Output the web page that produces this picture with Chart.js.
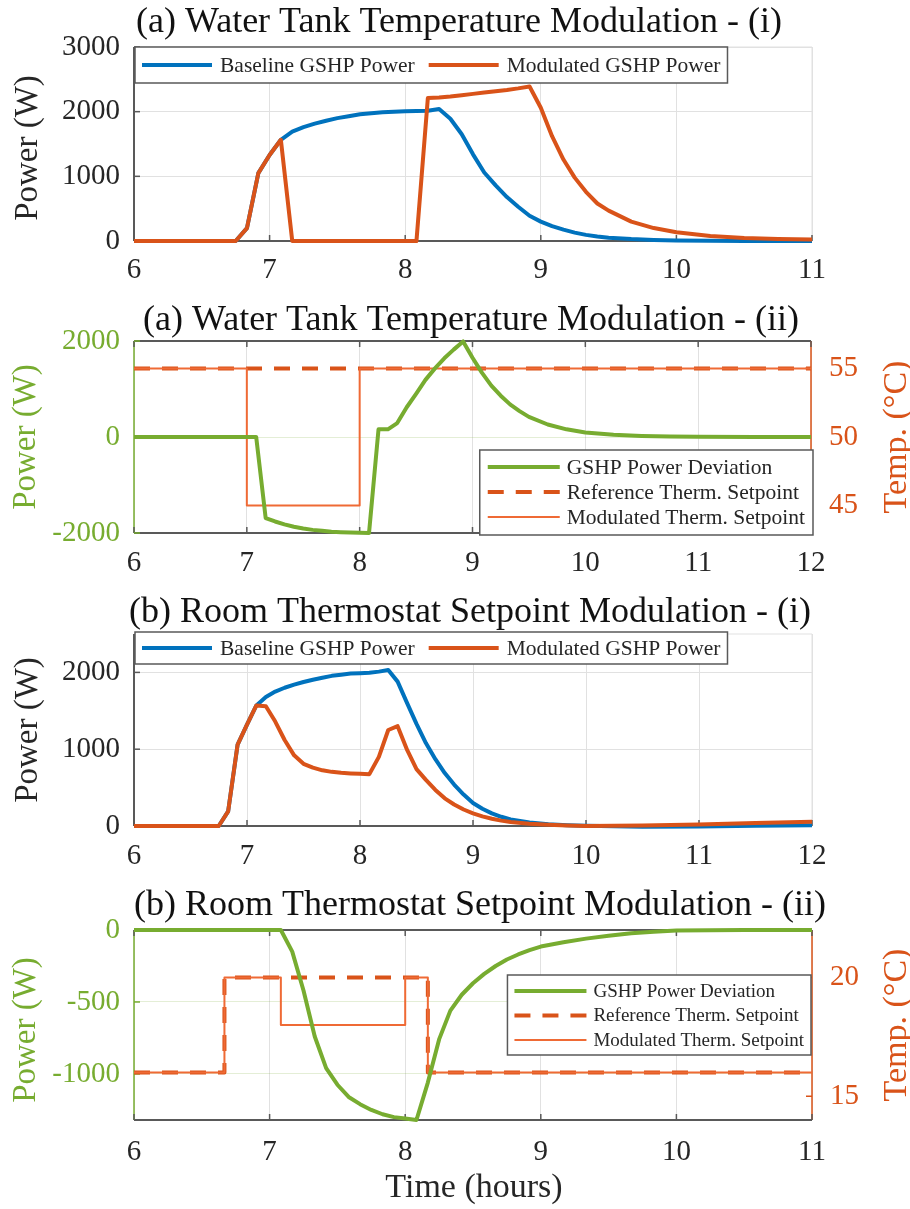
<!DOCTYPE html>
<html>
<head>
<meta charset="utf-8">
<script src="https://cdn.jsdelivr.net/npm/chart.js@4.4.1/dist/chart.umd.min.js"></script>
<style>
  body { margin: 0; background: #fff; }
  #wrap { position: relative; width: 910px; height: 1209px; overflow: hidden; }
  canvas { position: absolute; left: 0; }
</style>
</head>
<body>
<div id="wrap">
  <canvas id="p1" width="910" height="292" style="top:0px"></canvas>
  <canvas id="p2" width="910" height="293" style="top:292px"></canvas>
  <canvas id="p3" width="910" height="293" style="top:585px"></canvas>
  <canvas id="p4" width="910" height="331" style="top:878px"></canvas>
</div>
<script>
// ---- data (time in hours, power in W, temperature in degC) ----
const panelTitles = [
  '(a) Water Tank Temperature Modulation - (i)',
  '(a) Water Tank Temperature Modulation - (ii)',
  '(b) Room Thermostat Setpoint Modulation - (i)',
  '(b) Room Thermostat Setpoint Modulation - (ii)'
];

// panel (a)-(i)
const p1Time = [6, 6.75, 6.833, 6.917, 7.0, 7.083, 7.167, 7.25, 7.333, 7.417, 7.5, 7.583, 7.667, 7.75, 7.833, 7.917,
  8.0, 8.083, 8.167, 8.25, 8.333, 8.417, 8.5, 8.583, 8.667, 8.75, 8.833, 8.917, 9.0, 9.083, 9.167, 9.25, 9.333, 9.417,
  9.5, 9.667, 9.833, 10.0, 10.25, 10.5, 10.75, 11.0];
const p1Baseline = [0, 0, 200, 1050, 1330, 1565, 1690, 1760, 1815, 1860, 1900, 1930, 1960, 1975, 1990, 2000,
  2005, 2010, 2015, 2040, 1890, 1650, 1340, 1060, 860, 680, 530, 390, 300, 230, 175, 130, 95, 70,
  52, 30, 17, 9, 3, 1, 0, 0];
const p1Modulated = [0, 0, 200, 1050, 1330, 1565, 0, 0, 0, 0, 0, 0, 0, 0, 0, 0,
  0, 0, 2210, 2220, 2235, 2255, 2275, 2295, 2315, 2335, 2360, 2390, 2060, 1620, 1260, 980, 760, 580,
  470, 300, 200, 135, 78, 48, 32, 25];
const p1XTicks = [6, 7, 8, 9, 10, 11];
const p1YTicks = [0, 1000, 2000, 3000];

// panel (a)-(ii)
const p2Time = [6, 7.0, 7.083, 7.167, 7.25, 7.333, 7.417, 7.5, 7.583, 7.667, 7.75, 7.833, 7.917, 8.0, 8.083,
  8.167, 8.25, 8.333, 8.417, 8.5, 8.583, 8.667, 8.75, 8.833, 8.917, 9.0, 9.083, 9.167, 9.25, 9.333, 9.417,
  9.5, 9.667, 9.833, 10.0, 10.25, 10.5, 10.75, 11.0, 11.5, 12.0];
const p2Deviation = [0, 0, 0, -1690, -1760, -1820, -1870, -1905, -1935, -1955, -1972, -1982, -1990, -1995, -2000,
  160, 160, 290, 620, 900, 1190, 1430, 1640, 1820, 1990, 1650, 1340, 1070, 860, 680, 540,
  420, 260, 160, 95, 45, 22, 10, 4, 0, 0];
const p2RefTime = [6, 12];
const p2RefSetpoint = [55, 55];
const p2ModTime = [6, 7, 7, 8, 8, 12];
const p2ModSetpoint = [55, 55, 45, 45, 55, 55];
const p2XTicks = [6, 7, 8, 9, 10, 11, 12];
const p2YTicks = [-2000, 0, 2000];
const p2TTicks = [45, 50, 55];

// panel (b)-(i)
const p3Time = [6, 6.75, 6.833, 6.917, 7.0, 7.083, 7.167, 7.25, 7.333, 7.417, 7.5, 7.583, 7.667, 7.75, 7.833, 7.917,
  8.0, 8.083, 8.167, 8.25, 8.333, 8.417, 8.5, 8.583, 8.667, 8.75, 8.833, 8.917, 9.0, 9.083, 9.167, 9.25, 9.333,
  9.5, 9.667, 9.833, 10.0, 10.5, 11.0, 11.5, 12.0];
const p3Baseline = [0, 0, 190, 1060, 1320, 1570, 1680, 1750, 1800, 1840, 1875, 1905, 1930, 1955, 1970, 1985,
  1990, 1995, 2010, 2030, 1880, 1600, 1330, 1080, 870, 690, 540, 410, 300, 225, 165, 120, 85,
  45, 22, 10, 2, -10, -5, 3, 10];
const p3Modulated = [0, 0, 190, 1060, 1320, 1570, 1560, 1360, 1120, 920, 810, 760, 725, 705, 692, 685,
  680, 675, 900, 1250, 1300, 990, 740, 600, 470, 360, 280, 215, 165, 125, 95, 70, 52,
  30, 15, 5, 0, 5, 20, 38, 56];
const p3XTicks = [6, 7, 8, 9, 10, 11, 12];
const p3YTicks = [0, 1000, 2000];

// panel (b)-(ii)
const p4Time = [6, 7.0, 7.083, 7.167, 7.25, 7.333, 7.417, 7.5, 7.583, 7.667, 7.75, 7.833, 7.917, 8.0, 8.083,
  8.167, 8.25, 8.333, 8.417, 8.5, 8.583, 8.667, 8.75, 8.833, 8.917, 9.0, 9.167, 9.333, 9.5, 9.667, 9.833,
  10.0, 10.5, 11.0];
const p4Deviation = [0, 0, 0, -150, -420, -740, -960, -1075, -1160, -1210, -1250, -1280, -1300, -1310, -1320,
  -1060, -760, -560, -450, -370, -305, -250, -205, -170, -140, -115, -85, -60, -40, -23, -12,
  -4, 0, 0];
const p4RefTime = [6, 6.667, 6.667, 8.167, 8.167, 11];
const p4RefSetpoint = [16, 16, 20, 20, 16, 16];
const p4ModTime = [6, 6.667, 6.667, 7.083, 7.083, 8.0, 8.0, 8.167, 8.167, 11];
const p4ModSetpoint = [16, 16, 20, 20, 18, 18, 20, 20, 16, 16];
const p4XTicks = [6, 7, 8, 9, 10, 11];
const p4YTicks = [-1000, -500, 0];
const p4TTicks = [15, 20];

// ---- styling ----
const BLUE = '#0072BD', ORANGE = '#D95319', GREEN = '#77AC30', THIN = '#EF6A35';
const AXIS = '#595959', GRID = '#e1e1e1', GRID_G = 'rgba(119,172,48,0.2)';
const FONT = '"Liberation Serif", "Times New Roman", serif';

function pts(xs, ys) {
  return xs.map((x, i) => ({ x: x, y: ys[i] }));
}

function line(ctx, x1, y1, x2, y2, color, w) {
  ctx.beginPath();
  ctx.strokeStyle = color;
  ctx.lineWidth = w;
  ctx.setLineDash([]);
  ctx.moveTo(x1, y1);
  ctx.lineTo(x2, y2);
  ctx.stroke();
}

function drawLegend(chart, L) {
  const ctx = chart.ctx;
  const sets = chart.data.datasets;
  ctx.font = L.size + 'px ' + FONT;
  const widths = sets.map(d => ctx.measureText(d.label).width);
  let w;
  if (L.horizontal) {
    w = L.pad;
    widths.forEach((tw, i) => { w += L.sample + L.gap + tw + (i < sets.length - 1 ? L.itemGap : L.pad); });
  } else {
    w = L.pad + L.sample + L.gap + Math.max(...widths) + L.pad;
  }
  const x0 = L.right ? L.right - w : L.x;
  ctx.fillStyle = '#fff';
  ctx.fillRect(x0, L.y, w, L.h);
  ctx.strokeStyle = AXIS;
  ctx.lineWidth = 1.5;
  ctx.setLineDash([]);
  ctx.strokeRect(x0, L.y, w, L.h);
  ctx.textBaseline = 'middle';
  ctx.textAlign = 'left';
  let cx = x0 + L.pad;
  sets.forEach((d, i) => {
    const cy = L.horizontal ? L.y + L.first : L.y + L.first + i * L.rowH;
    const sx = L.horizontal ? cx : x0 + L.pad;
    ctx.beginPath();
    ctx.strokeStyle = d.borderColor;
    ctx.lineWidth = d.borderWidth;
    ctx.setLineDash(d.borderDash || []);
    ctx.moveTo(sx, cy);
    ctx.lineTo(sx + L.sample, cy);
    ctx.stroke();
    ctx.setLineDash([]);
    ctx.fillStyle = '#262626';
    ctx.fillText(d.label, sx + L.sample + L.gap, cy + 1);
    cx += L.sample + L.gap + widths[i] + L.itemGap;
  });
}

const matlabLook = {
  id: 'matlabLook',
  beforeDatasetsDraw(chart, args, o) {
    const ctx = chart.ctx, a = chart.chartArea;
    ctx.save();
    // axes box, under the curves
    line(ctx, a.left, a.top, a.right, a.top, o.frame.top, o.frame.topW);
    line(ctx, a.right, a.top, a.right, a.bottom, o.frame.right, o.frame.rightW);
    line(ctx, a.left, a.bottom, a.right, a.bottom, AXIS, 2);
    line(ctx, a.left, a.top, a.left, a.bottom, o.frame.left, o.frame.leftW);
    // inward tick marks
    const xs = chart.scales.x;
    xs.ticks.forEach(t => {
      const px = xs.getPixelForValue(t.value);
      line(ctx, px, a.bottom, px, a.bottom - 6, AXIS, 1.5);
      if (o.boxOn) line(ctx, px, a.top, px, a.top + 6, AXIS, 1.5);
    });
    o.yMarks.forEach(m => {
      const s = chart.scales[m.id];
      s.ticks.forEach(t => {
        const py = s.getPixelForValue(t.value);
        if (m.side === 'left') line(ctx, a.left, py, a.left + 6, py, m.color, 1.5);
        else line(ctx, a.right, py, a.right - 6, py, m.color, 1.5);
      });
    });
    ctx.restore();
  },
  afterDraw(chart, args, o) {
    const ctx = chart.ctx;
    ctx.save();
    drawLegend(chart, o.legend);
    // title
    ctx.fillStyle = '#111';
    ctx.font = o.title.size + 'px ' + FONT;
    ctx.textAlign = 'center';
    ctx.textBaseline = 'alphabetic';
    ctx.fillText(o.title.text, o.title.x, o.title.y);
    // axis titles
    o.yTitles.forEach(t => {
      ctx.save();
      ctx.translate(t.x, t.y);
      ctx.rotate(-Math.PI / 2);
      ctx.fillStyle = t.color;
      ctx.font = t.size + 'px ' + FONT;
      ctx.textAlign = 'center';
      ctx.textBaseline = 'middle';
      ctx.fillText(t.text, 0, 0);
      ctx.restore();
    });
    if (o.xTitle) {
      ctx.fillStyle = '#262626';
      ctx.font = o.xTitle.size + 'px ' + FONT;
      ctx.textAlign = 'center';
      ctx.textBaseline = 'middle';
      ctx.fillText(o.xTitle.text, o.xTitle.x, o.xTitle.y);
    }
    ctx.restore();
  }
};

function xAxis(max, ticks, height, pad) {
  return {
    type: 'linear', min: 6, max: max,
    afterBuildTicks: s => { s.ticks = ticks.map(v => ({ value: v })); },
    afterFit: s => { s.height = height; },
    grid: { color: GRID, drawTicks: false, lineWidth: 1 },
    border: { display: false },
    ticks: { color: '#262626', font: { family: FONT, size: 29 }, padding: pad, maxRotation: 0, autoSkip: false,
      callback: v => String(v) }
  };
}

function yAxis(pos, min, max, ticks, color, width, grid, pad) {
  return {
    type: 'linear', position: pos, min: min, max: max,
    afterBuildTicks: s => { s.ticks = ticks.map(v => ({ value: v })); },
    afterFit: s => { s.width = width; },
    grid: { display: !!grid, color: grid || GRID, drawTicks: false, lineWidth: 1 },
    border: { display: false },
    ticks: { color: color, font: { family: FONT, size: 29 }, padding: pad, autoSkip: false,
      callback: v => String(v) }
  };
}

function makeChart(id, datasets, scales, padding, look) {
  datasets.forEach(d => { d.clip = 6; });
  return new Chart(document.getElementById(id), {
    type: 'line',
    data: { datasets: datasets },
    options: {
      responsive: false,
      animation: false,
      devicePixelRatio: 1,
      events: [],
      layout: { padding: padding },
      elements: { point: { radius: 0 }, line: { tension: 0, borderJoinStyle: 'round' } },
      scales: scales,
      plugins: { legend: { display: false }, tooltip: { enabled: false }, matlabLook: look }
    },
    plugins: [matlabLook]
  });
}

const powerTitle = (x, y, color) => ({ text: 'Power (W)', x: x, y: y, color: color, size: 33 });
const tempTitle = (x, y) => ({ text: 'Temp. (\u00B0C)', x: x, y: y, color: ORANGE, size: 34 });
const plainFrame = { top: GRID, topW: 1, right: GRID, rightW: 1, left: AXIS, leftW: 2 };
const twinFrame = { top: AXIS, topW: 2, right: ORANGE, rightW: 1.5, left: GREEN, leftW: 1.5 };

// (a)-(i)
makeChart('p1', [
  { label: 'Baseline GSHP Power', data: pts(p1Time, p1Baseline), borderColor: BLUE, borderWidth: 4, order: 2 },
  { label: 'Modulated GSHP Power', data: pts(p1Time, p1Modulated), borderColor: ORANGE, borderWidth: 4, order: 1 }
], {
  x: xAxis(11, p1XTicks, 51, 12),
  y: yAxis('left', 0, 3000, p1YTicks, '#262626', 134, GRID, 14)
}, { left: 0, top: 47, right: 98, bottom: 0 }, {
  frame: plainFrame, boxOn: false,
  yMarks: [{ id: 'y', side: 'left', color: AXIS }],
  legend: { horizontal: true, x: 135, y: 47, h: 36, first: 18, pad: 7, sample: 70, gap: 8, itemGap: 14, size: 21.5 },
  title: { text: panelTitles[0], x: 459, y: 32, size: 36 },
  yTitles: [powerTitle(28, 148, '#262626')]
});

// (a)-(ii)
makeChart('p2', [
  { label: 'GSHP Power Deviation', data: pts(p2Time, p2Deviation), borderColor: GREEN, borderWidth: 4, yAxisID: 'y', order: 0 },
  { label: 'Reference Therm. Setpoint', data: pts(p2RefTime, p2RefSetpoint), borderColor: ORANGE, borderWidth: 4,
    borderDash: [16, 12], yAxisID: 'y1', order: 2 },
  { label: 'Modulated Therm. Setpoint', data: pts(p2ModTime, p2ModSetpoint), borderColor: THIN, borderWidth: 2, yAxisID: 'y1', order: 1 }
], {
  x: xAxis(12, p2XTicks, 52, 13),
  y: yAxis('left', -2000, 2000, p2YTicks, GREEN, 134, GRID_G, 14),
  y1: yAxis('right', 43, 57, p2TTicks, ORANGE, 99, null, 18)
}, { left: 0, top: 49, right: 0, bottom: 0 }, {
  frame: twinFrame, boxOn: true,
  yMarks: [{ id: 'y', side: 'left', color: GREEN }, { id: 'y1', side: 'right', color: ORANGE }],
  legend: { horizontal: false, right: 813, y: 158, h: 85, first: 17, rowH: 25, pad: 8, sample: 72, gap: 7, size: 21.5 },
  title: { text: panelTitles[1], x: 471, y: 38, size: 36 },
  yTitles: [powerTitle(26, 145, GREEN), tempTitle(897, 145)]
});

// (b)-(i)
makeChart('p3', [
  { label: 'Baseline GSHP Power', data: pts(p3Time, p3Baseline), borderColor: BLUE, borderWidth: 4, order: 2 },
  { label: 'Modulated GSHP Power', data: pts(p3Time, p3Modulated), borderColor: ORANGE, borderWidth: 4, order: 1 }
], {
  x: xAxis(12, p3XTicks, 52, 13),
  y: yAxis('left', 0, 2500, p3YTicks, '#262626', 134, GRID, 14)
}, { left: 0, top: 49, right: 98, bottom: 0 }, {
  frame: plainFrame, boxOn: false,
  yMarks: [{ id: 'y', side: 'left', color: AXIS }],
  legend: { horizontal: true, x: 135, y: 47, h: 32, first: 16, pad: 7, sample: 70, gap: 8, itemGap: 14, size: 21.5 },
  title: { text: panelTitles[2], x: 470, y: 37, size: 36 },
  yTitles: [powerTitle(28, 145, '#262626')]
});

// (b)-(ii)
makeChart('p4', [
  { label: 'GSHP Power Deviation', data: pts(p4Time, p4Deviation), borderColor: GREEN, borderWidth: 4, yAxisID: 'y', order: 0 },
  { label: 'Reference Therm. Setpoint', data: pts(p4RefTime, p4RefSetpoint), borderColor: ORANGE, borderWidth: 4,
    borderDash: [16, 12], yAxisID: 'y1', order: 2 },
  { label: 'Modulated Therm. Setpoint', data: pts(p4ModTime, p4ModSetpoint), borderColor: THIN, borderWidth: 2, yAxisID: 'y1', order: 1 }
], {
  x: xAxis(11, p4XTicks, 89, 15),
  y: yAxis('left', -1320, 0, p4YTicks, GREEN, 134, GRID_G, 14),
  y1: yAxis('right', 14, 22, p4TTicks, ORANGE, 98, null, 18)
}, { left: 0, top: 52, right: 0, bottom: 0 }, {
  frame: twinFrame, boxOn: true,
  yMarks: [{ id: 'y', side: 'left', color: GREEN }, { id: 'y1', side: 'right', color: ORANGE }],
  legend: { horizontal: false, right: 811, y: 97, h: 80, first: 16, rowH: 24.5, pad: 7, sample: 72, gap: 7, size: 19 },
  title: { text: panelTitles[3], x: 480, y: 37, size: 36 },
  yTitles: [powerTitle(26, 152, GREEN), tempTitle(897, 147)],
  xTitle: { text: 'Time (hours)', x: 474, y: 310, size: 34 }
});
</script>
</body>
</html>
